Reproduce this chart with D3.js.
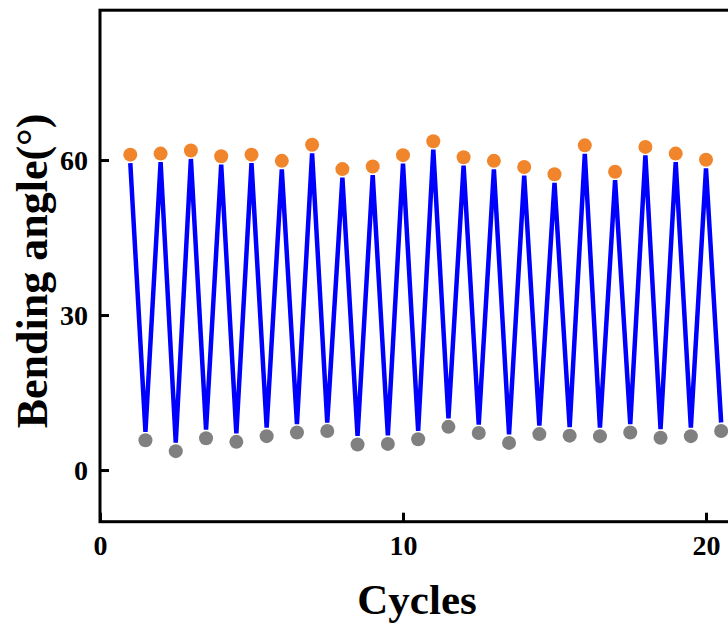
<!DOCTYPE html>
<html>
<head>
<meta charset="utf-8">
<script src="https://cdn.jsdelivr.net/npm/d3@7"></script>
<style>
  body { margin: 0; background: #fff; }
  svg { display: block; }
  text { font-family: "Liberation Serif", "Times New Roman", serif; font-weight: bold; fill: #000; }
</style>
</head>
<body>
<svg id="chart"></svg>
<script>
// bending angle at the top of each cycle (x = 1..20)
var peakCycles = d3.range(1, 21);
var peakAngles = [59.4, 59.6, 60.2, 59.1, 59.4, 58.2, 61.3, 56.6, 57.1, 59.3,
                  62.0, 58.9, 58.2, 57.0, 55.6, 61.2, 56.1, 60.9, 59.6, 58.4];
// bending angle at the bottom of each cycle (x = 1.5..20.5)
var troughCycles = d3.range(1.5, 21, 1);
var troughAngles = [7.4, 5.3, 7.8, 7.1, 8.2, 8.9, 9.2, 6.6, 6.7, 7.6,
                    10.0, 8.8, 6.9, 8.6, 8.3, 8.2, 8.9, 7.9, 8.2, 9.2];
var xTicks = [0, 10, 20];
var yTicks = [0, 30, 60];

var W = 728, H = 628;
var svg = d3.select("#chart").attr("width", W).attr("height", H);

var x = d3.scaleLinear().domain([0, 21]).range([100, 736.3]);
var y = d3.scaleLinear().domain([-10, 89]).range([521.7, 10.2]);

// interleave peaks and troughs for the zig-zag line
var linePts = [];
peakCycles.forEach(function(c, i) {
    linePts.push([c, peakAngles[i]]);
    linePts.push([troughCycles[i], troughAngles[i]]);
});

var line = d3.line()
    .x(function(d) { return x(d[0]); })
    .y(function(d) { return y(d[1]); });

svg.append("path")
    .datum(linePts)
    .attr("d", line)
    .attr("fill", "none")
    .attr("stroke", "#0000ff")
    .attr("stroke-width", 4.5)
    .attr("stroke-linejoin", "bevel");

var dotGap = 8.5;

svg.selectAll(".peak")
    .data(peakCycles)
    .enter().append("circle")
    .attr("class", "peak")
    .attr("cx", function(d) { return x(d); })
    .attr("cy", function(d, i) { return y(peakAngles[i]) - dotGap; })
    .attr("r", 7)
    .attr("fill", "#f0852c");

svg.selectAll(".trough")
    .data(troughCycles)
    .enter().append("circle")
    .attr("class", "trough")
    .attr("cx", function(d) { return x(d); })
    .attr("cy", function(d, i) { return y(troughAngles[i]) + dotGap; })
    .attr("r", 7)
    .attr("fill", "#808080");

// frame
var x0 = x.range()[0], x1 = x.range()[1], yb = y.range()[0], yt = y.range()[1];
svg.append("rect")
    .attr("x", x0).attr("y", yt)
    .attr("width", x1 - x0).attr("height", yb - yt)
    .attr("fill", "none")
    .attr("stroke", "#000")
    .attr("stroke-width", 3);

// axes, ticks inside
var gx = svg.append("g")
    .attr("transform", "translate(0," + yb + ")")
    .call(d3.axisBottom(x).tickValues(xTicks).tickSizeInner(-9).tickSizeOuter(0).tickPadding(13));
var gy = svg.append("g")
    .attr("transform", "translate(" + x0 + ",0)")
    .call(d3.axisLeft(y).tickValues(yTicks).tickSizeInner(-9).tickSizeOuter(0).tickPadding(12));

[gx, gy].forEach(function(g) {
    g.attr("font-family", null).attr("font-size", null);
    g.select(".domain").remove();
    g.selectAll(".tick line").attr("stroke", "#000").attr("stroke-width", 3);
    g.selectAll(".tick text")
        .attr("font-size", 28)
        .attr("fill", "#000");
});

svg.append("text")
    .attr("x", 417).attr("y", 614)
    .attr("text-anchor", "middle")
    .attr("font-size", 43)
    .text("Cycles");

svg.append("text")
    .attr("transform", "translate(47,271) rotate(-90)")
    .attr("text-anchor", "middle")
    .attr("font-size", 44)
    .text("Bending angle(°)");
</script>
</body>
</html>
